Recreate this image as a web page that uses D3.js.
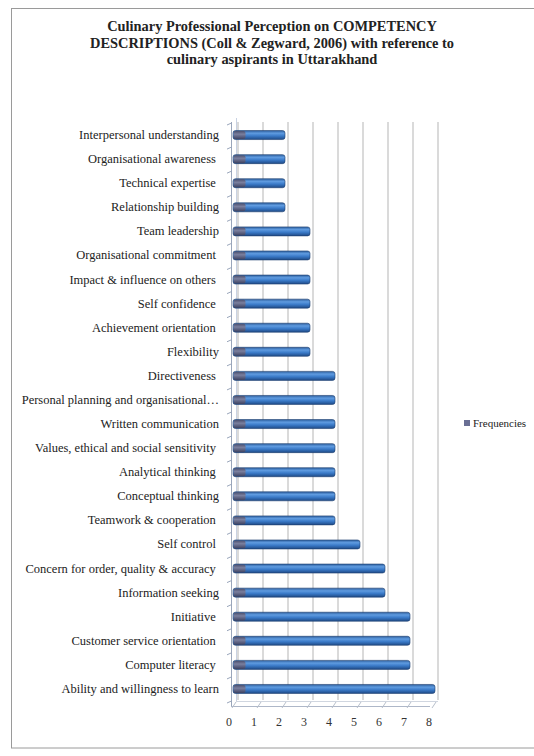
<!DOCTYPE html>
<html>
<head>
<meta charset="utf-8">
<script src="https://cdn.jsdelivr.net/npm/d3@7"></script>
<style>
  html, body { margin: 0; padding: 0; background: #fff; }
  svg { display: block; }
  text { font-family: "Liberation Serif", "Times New Roman", "DejaVu Serif", serif; }
</style>
</head>
<body>
<script>
const categories = [
  "Interpersonal understanding",
  "Organisational awareness ",
  "Technical expertise ",
  "Relationship building",
  "Team leadership",
  "Organisational commitment ",
  "Impact & influence on others ",
  "Self confidence ",
  "Achievement orientation ",
  "Flexibility",
  "Directiveness ",
  "Personal planning and organisational…",
  "Written communication",
  "Values, ethical and social sensitivity ",
  "Analytical thinking ",
  "Conceptual thinking",
  "Teamwork & cooperation ",
  "Self control ",
  "Concern for order, quality & accuracy ",
  "Information seeking",
  "Initiative ",
  "Customer service orientation ",
  "Computer literacy ",
  "Ability and willingness to learn"
];
const frequencies = [2, 2, 2, 2, 3, 3, 3, 3, 3, 3, 4, 4, 4, 4, 4, 4, 4, 5, 6, 6, 7, 7, 7, 8];
const xTicks = [0, 1, 2, 3, 4, 5, 6, 7, 8];
const seriesName = "Frequencies";
const titleLines = [
  "Culinary Professional Perception on COMPETENCY",
  "DESCRIPTIONS (Coll & Zegward, 2006) with reference to",
  "culinary aspirants in Uttarakhand"
];

(function () {
const W = 534, H = 756;
const svg = d3.select("body").append("svg").attr("width", W).attr("height", H);

const defs = svg.append("defs");
const grad = defs.append("linearGradient").attr("id", "barGrad")
  .attr("x1", 0).attr("y1", 0).attr("x2", 0).attr("y2", 1);
grad.append("stop").attr("offset", "0%").attr("stop-color", "#2d5f9e");
grad.append("stop").attr("offset", "30%").attr("stop-color", "#5f9be0");
grad.append("stop").attr("offset", "60%").attr("stop-color", "#3a7ac8");
grad.append("stop").attr("offset", "100%").attr("stop-color", "#1f4a86");
const grad2 = defs.append("linearGradient").attr("id", "capGrad")
  .attr("x1", 0).attr("y1", 0).attr("x2", 0).attr("y2", 1);
grad2.append("stop").attr("offset", "0%").attr("stop-color", "#4a5070");
grad2.append("stop").attr("offset", "40%").attr("stop-color", "#7a7f9e");
grad2.append("stop").attr("offset", "100%").attr("stop-color", "#3d4363");

// outer border
svg.append("rect").attr("x", 11.5).attr("y", 8.5).attr("width", 600).attr("height", 739.5)
  .attr("fill", "none").attr("stroke", "#9a9a9a").attr("stroke-width", 1);

// title
svg.append("g").selectAll("text").data(titleLines).join("text")
  .attr("x", 272).attr("y", (d, i) => 31 + i * 16.5)
  .attr("text-anchor", "middle")
  .attr("font-weight", "bold").attr("font-size", 14.4)
  .attr("fill", "#222")
  .text(d => d);

// scales
const x = d3.scaleLinear().domain([0, 8]).range([228, 428]);
const y = d3.scaleBand().domain(categories).range([123, 701]).paddingInner(0).paddingOuter(0);
const backOff = 10, plotTop = 122, plotBottom = 703;

// back gridlines
svg.append("g").selectAll("line").data(xTicks).join("line")
  .attr("x1", d => x(d) + backOff).attr("x2", d => x(d) + backOff)
  .attr("y1", plotTop).attr("y2", plotBottom - 3)
  .attr("stroke", "#b5b5b5").attr("stroke-width", 1);

// left wall / axis
svg.append("line").attr("x1", 231.5).attr("x2", 231.5).attr("y1", plotTop).attr("y2", plotBottom + 3)
  .attr("stroke", "#9aa6bb");
svg.append("line").attr("x1", 236.5).attr("x2", 236.5).attr("y1", plotTop - 4).attr("y2", plotBottom - 2)
  .attr("stroke", "#c9d2e2");
const bounds = categories.map(c => y(c)).concat([y.range()[1]]);
svg.append("g").selectAll("line").data(bounds).join("line")
  .attr("x1", 227).attr("x2", 231.5)
  .attr("y1", d => d + 2).attr("y2", d => d)
  .attr("stroke", "#9aa6bb");

// floor
svg.append("line").attr("x1", 231).attr("x2", x(8) + 2).attr("y1", plotBottom + 3.5).attr("y2", plotBottom + 3.5)
  .attr("stroke", "#aeb7c8");
svg.append("line").attr("x1", 236).attr("x2", x(8) + backOff).attr("y1", plotBottom - 1.5).attr("y2", plotBottom - 1.5)
  .attr("stroke", "#d0d6e0");
svg.append("g").selectAll("line").data(xTicks).join("line")
  .attr("x1", d => x(d) + 4).attr("x2", d => x(d) + 8)
  .attr("y1", plotBottom + 5).attr("y2", plotBottom - 1)
  .attr("stroke", "#b8c0cc");

// bars
const barH = 9;
const bars = svg.append("g").selectAll("g").data(frequencies).join("g");
bars.append("rect")
  .attr("x", x(0) + 5)
  .attr("y", (d, i) => y(categories[i]) + y.bandwidth() / 2 - barH / 2)
  .attr("width", d => x(d) + 7 - (x(0) + 5))
  .attr("height", barH)
  .attr("rx", 2.5)
  .attr("fill", "url(#barGrad)")
  .attr("stroke", "#1e3f70").attr("stroke-width", 0.6);
bars.append("rect")
  .attr("x", x(0) + 5.5)
  .attr("y", (d, i) => y(categories[i]) + y.bandwidth() / 2 - barH / 2 + 0.5)
  .attr("width", 12)
  .attr("height", barH - 1)
  .attr("rx", 2)
  .attr("fill", "url(#capGrad)");

// category labels
svg.append("g").selectAll("text").data(categories).join("text")
  .attr("x", 219)
  .attr("y", d => y(d) + y.bandwidth() / 2 + 4)
  .attr("text-anchor", "end")
  .attr("font-size", 12.5)
  .attr("fill", "#222")
  .attr("xml:space", "preserve")
  .text(d => d);

// x tick labels
svg.append("g").selectAll("text").data(xTicks).join("text")
  .attr("x", d => x(d) + 1)
  .attr("y", 726)
  .attr("text-anchor", "middle")
  .attr("font-size", 12)
  .attr("fill", "#333")
  .text(d => d);

// legend
svg.append("rect").attr("x", 464).attr("y", 420).attr("width", 6).attr("height", 6)
  .attr("fill", "#6a6f94");
svg.append("text").attr("x", 473).attr("y", 426.5)
  .attr("font-size", 11).attr("fill", "#222")
  .text(seriesName);
})();
</script>
</body>
</html>
